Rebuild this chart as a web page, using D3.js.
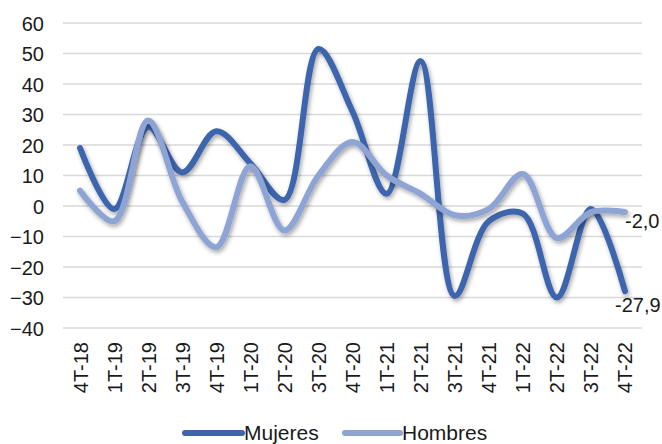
<!DOCTYPE html>
<html>
<head>
<meta charset="utf-8">
<script src="https://cdn.jsdelivr.net/npm/d3@7"></script>
<style>
  html, body { margin: 0; padding: 0; background: #fff; }
  svg { display: block; font-family: "Liberation Sans", Arial, sans-serif; }
</style>
</head>
<body>
<svg id="chart" width="662" height="444"></svg>
<script>
const categories = ["4T-18","1T-19","2T-19","3T-19","4T-19","1T-20","2T-20","3T-20","4T-20","1T-21","2T-21","3T-21","4T-21","1T-22","2T-22","3T-22","4T-22"];
const mujeres = [19, -1, 26, 11, 24.5, 14, 2, 51.5, 31, 4, 47.5, -29.5, -5, -2.5, -30, -1, -27.9];
const hombres = [5, -5, 28, 1.5, -13.5, 13, -8, 10, 21, 10, 4, -3, -1, 10.5, -10.5, -2, -2.0];
const yTicks = [60, 50, 40, 30, 20, 10, 0, -10, -20, -30, -40];
const seriesNames = ["Mujeres", "Hombres"];
const seriesColors = ["#3d65ad", "#8ea4d4"];
const endLabels = ["-27,9", "-2,0"];

const svg = d3.select("#chart");
const pLeft = 63, pRight = 642, pTop = 23, pBottom = 328;

const x = d3.scalePoint().domain(categories).range([pLeft, pRight]).padding(0.5);
const y = d3.scaleLinear().domain([-40, 60]).range([pBottom, pTop]);

const defs = svg.append("defs");
const f = defs.append("filter").attr("id", "sh").attr("x", "-10%").attr("y", "-10%").attr("width", "120%").attr("height", "130%");
f.append("feDropShadow").attr("dx", 1.5).attr("dy", 2.5).attr("stdDeviation", 2).attr("flood-color", "#000").attr("flood-opacity", 0.35);

// gridlines
svg.append("g").selectAll("line").data(yTicks).join("line")
  .attr("x1", pLeft).attr("x2", pRight)
  .attr("y1", d => y(d)).attr("y2", d => y(d))
  .attr("stroke", "#d9d9d9").attr("stroke-width", 1.3);

// y axis labels
const yAxis = d3.axisLeft(y).tickValues(yTicks).tickSize(0).tickPadding(0).tickFormat(d3.format("d"));
const yg = svg.append("g").attr("transform", `translate(44,0)`).call(yAxis);
yg.select(".domain").remove();
yg.selectAll("text").attr("font-size", 20).attr("fill", "#1a1a1a")
  .attr("font-family", "'Liberation Sans', Arial, sans-serif").attr("dy", "0.35em");

// x axis labels
const xAxis = d3.axisBottom(x).tickSize(0).tickPadding(0);
const xg = svg.append("g").attr("transform", `translate(0,342)`).call(xAxis);
xg.select(".domain").remove();
xg.selectAll("text")
  .attr("font-size", 20).attr("fill", "#1a1a1a")
  .attr("font-family", "'Liberation Sans', Arial, sans-serif")
  .attr("transform", "rotate(-90)")
  .attr("text-anchor", "end")
  .attr("x", 0).attr("y", 0).attr("dy", "0.35em");

// lines
const line = d3.line()
  .x((d, i) => x(categories[i]))
  .y(d => y(d))
  .curve(d3.curveCatmullRom.alpha(0.5));

const data = [mujeres, hombres];
[0, 1].forEach(k => {
  svg.append("path")
    .attr("d", line(data[k]))
    .attr("fill", "none")
    .attr("stroke", seriesColors[k])
    .attr("stroke-width", 6)
    .attr("stroke-linecap", "round")
    .attr("stroke-linejoin", "round")
    .attr("filter", "url(#sh)");
});

// end labels
svg.append("text").attr("x", 615).attr("y", y(mujeres[mujeres.length - 1]) + 21)
  .attr("font-size", 20).attr("fill", "#1a1a1a").text(endLabels[0]);
svg.append("text").attr("x", 625).attr("y", y(hombres[hombres.length - 1]) + 16)
  .attr("font-size", 20).attr("fill", "#1a1a1a").text(endLabels[1]);

// legend
const legendItems = [{x1: 185, x2: 242}, {x1: 345, x2: 400}];
legendItems.forEach((it, k) => {
  svg.append("line").attr("x1", it.x1).attr("x2", it.x2).attr("y1", 433).attr("y2", 433)
    .attr("stroke", seriesColors[k]).attr("stroke-width", 6).attr("stroke-linecap", "round");
  svg.append("text").attr("x", it.x2 + 2).attr("y", 440).attr("font-size", 21)
    .attr("fill", "#1a1a1a").text(seriesNames[k]);
});
</script>
</body>
</html>
